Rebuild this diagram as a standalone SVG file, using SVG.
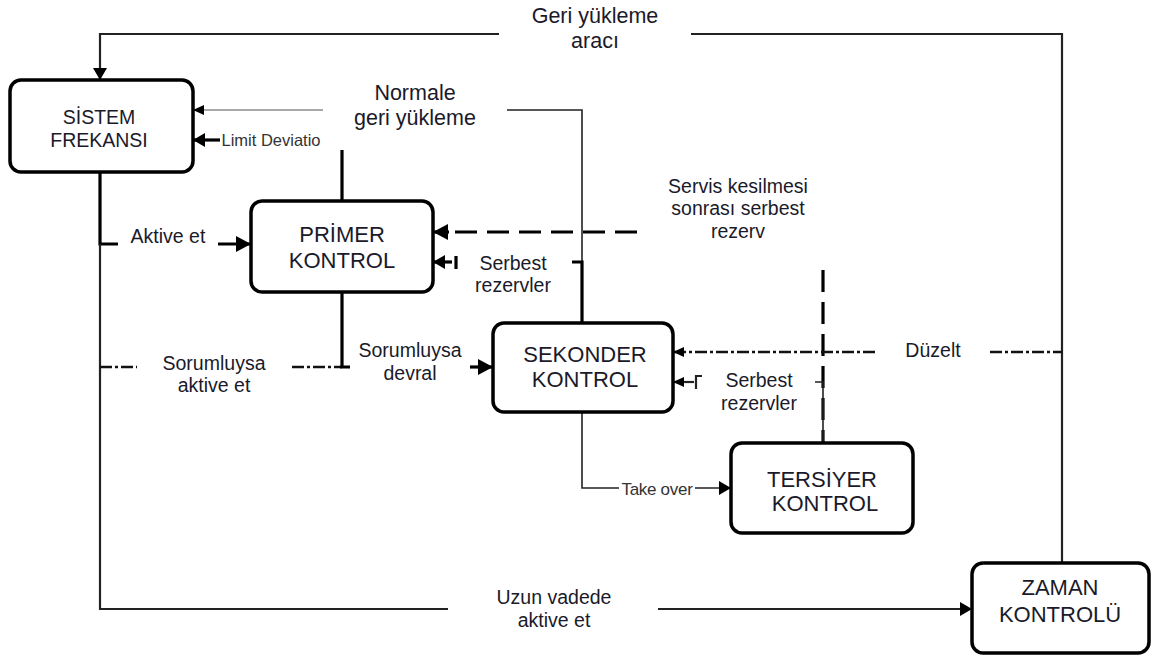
<svg xmlns="http://www.w3.org/2000/svg" width="1152" height="659" viewBox="0 0 1152 659">
<style>
text{font-family:"Liberation Sans",Arial,Helvetica,sans-serif;fill:#1a1a2a;text-anchor:middle}
.box{fill:#fff;stroke:#000;stroke-width:3.5}
.bt{font-size:22px}
.big{font-size:21.5px}
.lb{font-size:19.5px}
.sm{font-size:16.5px;fill:#333}
.thin{fill:none;stroke:#222;stroke-width:1.6}
.gray{fill:none;stroke:#555;stroke-width:1.2}
.med{fill:none;stroke:#222;stroke-width:2.2}
.thick{fill:none;stroke:#000;stroke-width:3.2}
.dash{fill:none;stroke:#000;stroke-width:3.2;stroke-dasharray:22 10}
.dd{fill:none;stroke:#111;stroke-width:2.4;stroke-dasharray:12 3 3 3}
</style>
<defs>
<marker id="aBig" markerUnits="userSpaceOnUse" markerWidth="15" markerHeight="16" refX="15" refY="8" orient="auto"><path d="M0,0 L15,8 L0,16 z" fill="#000"/></marker>
<marker id="aMed" markerUnits="userSpaceOnUse" markerWidth="12" markerHeight="14" refX="12" refY="7" orient="auto"><path d="M0,0 L12,7 L0,14 z" fill="#000"/></marker>
<marker id="aSm" markerUnits="userSpaceOnUse" markerWidth="11" markerHeight="10" refX="11" refY="5" orient="auto"><path d="M0,0 L11,5 L0,10 z" fill="#000"/></marker>
</defs>

<g id="connectors">
  <path class="med" d="M1062 563 V34 H691"/>
  <path class="med" d="M499 34 H100 V80" marker-end="url(#aMed)"/>
  <path class="thin" d="M582 262 V110 H507"/>
  <path class="gray" d="M323 110 H193" marker-end="url(#aSm)"/>
  <path class="thick" d="M220 140 H193" marker-end="url(#aMed)"/>
  <path class="thick" d="M100 172 V244 H118"/>
  <path class="thick" d="M218 244 H251" marker-end="url(#aBig)"/>
  <path class="med" d="M100 244 V609 H448"/>
  <path class="med" d="M658 609 H972" marker-end="url(#aMed)"/>
  <path class="dd" d="M100 367 H137"/>
  <path class="dd" d="M292 367 H342"/>
  <path class="thick" d="M342 292 V367 M340 367 H350"/>
  <path class="thick" d="M342 201 V150"/>
  <path class="thick" d="M470 367 H493" marker-end="url(#aBig)"/>
  <path class="thick" d="M582 323 V262 H572"/>
  <path class="thick" d="M452 262 H433" marker-end="url(#aMed)"/>
  <path class="thick" d="M456 256 V269"/>
  <path class="dash" d="M637 232 H455"/>
  <path class="thick" d="M449 232 H433" marker-end="url(#aBig)"/>
  <path class="dash" d="M823 270 V443"/>
  <path class="dd" d="M875 352 H673" marker-end="url(#aSm)"/>
  <path class="dd" d="M990 352 H1062"/>
  <path class="thin" d="M823 443 V382 H815"/>
  <path class="med" d="M694 382 H673" marker-end="url(#aSm)"/>
  <path class="med" d="M702 376 H696 V389"/>
  <path class="thin" d="M582 412 V488 H619"/>
  <path class="thin" d="M695 488 H731" marker-end="url(#aMed)"/>
</g>

<g id="labels">
  <text class="big" x="595" y="23">Geri yükleme</text>
  <text class="big" x="595" y="48">aracı</text>
  <text class="big" x="415" y="100">Normale</text>
  <text class="big" x="415" y="125">geri yükleme</text>
  <text class="sm" x="271" y="146">Limit Deviatio</text>
  <text class="lb" x="168" y="243">Aktive et</text>
  <text class="lb" x="214" y="370">Sorumluysa</text>
  <text class="lb" x="214" y="392">aktive et</text>
  <text class="lb" x="410" y="357">Sorumluysa</text>
  <text class="lb" x="410" y="380">devral</text>
  <text class="lb" x="513" y="270">Serbest</text>
  <text class="lb" x="513" y="292">rezervler</text>
  <text class="lb" x="738" y="193">Servis kesilmesi</text>
  <text class="lb" x="738" y="215">sonrası serbest</text>
  <text class="lb" x="738" y="238">rezerv</text>
  <text class="lb" x="933" y="357">Düzelt</text>
  <text class="lb" x="759" y="387">Serbest</text>
  <text class="lb" x="759" y="410">rezervler</text>
  <text class="sm" x="657" y="495" style="font-size:17px;letter-spacing:-0.3px">Take over</text>
  <text class="lb" x="554" y="604">Uzun vadede</text>
  <text class="lb" x="554" y="627">aktive et</text>
</g>

<g id="sistem">
  <rect class="box" x="10" y="80" width="183" height="92" rx="11"/>
  <text x="99" y="124" style="font-size:19.5px">SİSTEM</text>
  <text x="99" y="147" style="font-size:19.5px">FREKANSI</text>
</g>
<g id="primer">
  <rect class="box" x="251" y="201" width="182" height="91" rx="11"/>
  <text class="bt" x="342" y="242">PRİMER</text>
  <text class="bt" x="342" y="268">KONTROL</text>
</g>
<g id="sekonder">
  <rect class="box" x="493" y="323" width="180" height="89" rx="11"/>
  <text class="bt" x="585" y="362">SEKONDER</text>
  <text class="bt" x="585" y="387">KONTROL</text>
</g>
<g id="tersiyer">
  <rect class="box" x="731" y="443" width="182" height="90" rx="11"/>
  <text class="bt" x="822" y="487">TERSİYER</text>
  <text class="bt" x="825" y="511">KONTROL</text>
</g>
<g id="zaman">
  <rect class="box" x="972" y="563" width="177" height="90" rx="11"/>
  <text class="bt" x="1060" y="595">ZAMAN</text>
  <text class="bt" x="1060" y="622">KONTROLÜ</text>
</g>
</svg>
